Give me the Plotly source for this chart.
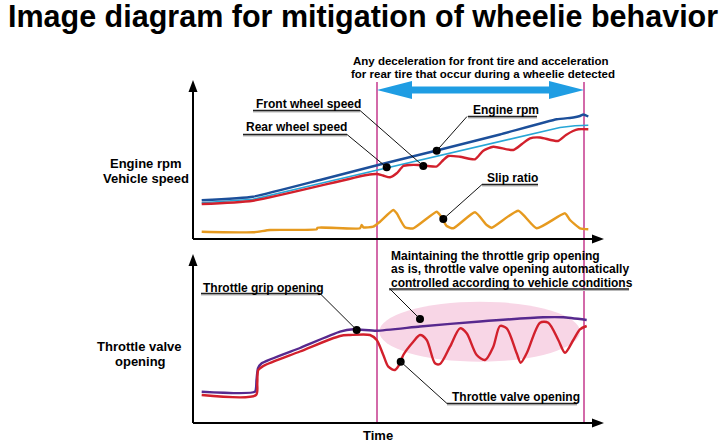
import plotly.graph_objects as go

W, H = 720, 442
X0 = 193          # time origin (pixel column of the vertical axes)
TOP_BASE = 239    # baseline of upper panel
BOT_BASE = 423    # baseline of lower panel

# ---------------- data (time units, signal level units) ----------------
rpm_t = [8.7, 60, 127, 187, 243.7, 307, 363.7, 380.3, 387, 390.3, 395.3]
rpm_v = [38.7, 42.3, 59, 74.5, 88.5, 104.5, 119.7, 121.5, 123, 124.5, 122.5]

rear_t = [8.7, 60, 127, 193.7, 257, 327, 352, 367, 382, 395.3]
rear_v = [36.3, 39.7, 55.5, 71, 86, 102.7, 108.5, 111.5, 113.3, 113.8]

front_t = [8.7, 60, 173.7, 183.7, 190, 197, 203.7, 210.3, 217, 225.3, 235, 243.7,
           250.3, 255.3, 267, 282, 290.3, 300.3, 320.3, 329, 337, 347, 365, 373, 380,
           385.3, 395.3]
front_v = [35, 38.3, 64, 65, 63.5, 61.7, 65.7, 73, 74, 74, 73, 72.5,
           79, 83, 82.3, 79.7, 88.3, 92.3, 89, 95, 100.7, 101.5, 98, 104, 108,
           109.7, 109.7]

slip_t = [8.7, 60, 77, 123.7, 124.5, 167, 168.7, 170.3, 180.3, 187, 200.3, 203.7,
          212, 220.3, 243.7, 247, 253.7, 260.3, 282, 293.7, 298.7, 325.3, 343.7,
          372, 377, 387, 395.3]
slip_v = [7.3, 6.7, 9, 9.7, 11.3, 10.7, 14, 11.7, 12.3, 17.3, 29, 25.7,
          11.7, 10.7, 27.3, 24, 13, 10.7, 26.7, 14, 11.3, 28.3, 10.7,
          25.7, 19, 10.7, 9.7]

grip_t = [8.7, 62, 63.5, 65, 68.7, 107, 147, 160.3, 183.7, 227, 287, 350.3, 370.3, 393.7]
grip_v = [31.3, 31.3, 43, 54.7, 59.7, 75, 91.3, 93.7, 92.3, 96.5, 101.5, 105.7, 105.7, 103]

valve_t = [8.7, 63, 64.3, 65.3, 70.3, 107, 147, 157, 177, 183.7, 190.3, 195.3, 202,
           207, 210.3, 220.3, 227, 233.7, 242, 247, 257, 267, 273.7, 283.7, 292,
           300.3, 307, 313.7, 323.7, 327.7, 333.7, 347, 355.3, 365.3, 372, 380.3,
           387, 393.7]
valve_v = [28, 28, 40, 53, 57, 71.5, 87, 88, 88, 83, 68, 56.3, 53,
           59.7, 68, 81.3, 88, 83, 59.7, 59, 76.3, 94.7, 89.7, 68, 63,
           76.3, 97, 94.7, 69.7, 60.3, 69.7, 100.3, 100.3, 83, 70.3, 83,
           93.7, 97]

# callout dots (time, level) on each panel
top_dot_t = [193.7, 230.3, 243.7, 250.3]
top_dot_v = [71.7, 73, 88.3, 20]
bot_dot_t = [163.7, 227, 207.7]
bot_dot_v = [93, 104, 61.3]

TITLE = "Image diagram for mitigation of wheelie behavior"

# ---------------- helpers (pixel -> paper) ----------------
def px(x):
    return x / W

def py(y):
    return 1 - y / H

FONT = "Liberation Sans, Arial, sans-serif"
RED = "#d2202c"
DARKBLUE = "#1c4f9a"
LIGHTBLUE = "#27a6d6"
ORANGE = "#e69a1f"
PURPLE = "#57298e"
MAGENTA = "#c5398c"

fig = go.Figure()

# upper panel
fig.add_trace(go.Scatter(x=rear_t, y=rear_v, mode="lines", name="Rear wheel speed",
                         line=dict(color=LIGHTBLUE, width=1.6)))
fig.add_trace(go.Scatter(x=rpm_t, y=rpm_v, mode="lines", name="Engine rpm",
                         line=dict(color=DARKBLUE, width=2.4, shape="spline", smoothing=0.4)))
fig.add_trace(go.Scatter(x=front_t, y=front_v, mode="lines", name="Front wheel speed",
                         line=dict(color=RED, width=2.4, shape="spline", smoothing=0.6)))
fig.add_trace(go.Scatter(x=slip_t, y=slip_v, mode="lines", name="Slip ratio",
                         line=dict(color=ORANGE, width=2.4, shape="spline", smoothing=0.5)))
fig.add_trace(go.Scatter(x=top_dot_t, y=top_dot_v, mode="markers",
                         marker=dict(color="black", size=8)))

# lower panel
fig.add_trace(go.Scatter(x=grip_t, y=grip_v, mode="lines", name="Throttle grip opening",
                         line=dict(color=PURPLE, width=2.4, shape="spline", smoothing=0.5),
                         yaxis="y2"))
fig.add_trace(go.Scatter(x=valve_t, y=valve_v, mode="lines", name="Throttle valve opening",
                         line=dict(color=RED, width=2.4, shape="spline", smoothing=0.8),
                         yaxis="y2"))
fig.add_trace(go.Scatter(x=bot_dot_t, y=bot_dot_v, mode="markers",
                         marker=dict(color="black", size=8), yaxis="y2"))

shapes = []
annotations = []

# pink ellipse (lower panel, behind lines)
shapes.append(dict(type="circle", xref="x", yref="y2", x0=186.3, x1=387, y0=61.3, y1=121.3,
                   fillcolor="#f8d6e6", line=dict(width=0), layer="below"))

# magenta vertical markers
for xx in (377, 584):
    shapes.append(dict(type="line", xref="paper", yref="paper", x0=px(xx), x1=px(xx),
                       y0=py(82), y1=py(423), line=dict(color=MAGENTA, width=1.5), layer="below"))

# axes with arrow heads
def axis(x0, y0, x1, y1):
    shapes.append(dict(type="line", xref="paper", yref="paper", x0=px(x0), y0=py(y0),
                       x1=px(x1), y1=py(y1), line=dict(color="black", width=2)))

def tri(pts):
    path = "M " + " L ".join(f"{px(a)},{py(b)}" for a, b in pts) + " Z"
    shapes.append(dict(type="path", xref="paper", yref="paper", path=path,
                       fillcolor="black", line=dict(width=0)))

axis(193, 239, 596, 239)
axis(193, 239, 193, 88)
tri([(604, 239), (592, 234.5), (592, 243.5)])
tri([(193, 80), (188.5, 92), (197.5, 92)])
axis(193, 423, 596, 423)
axis(193, 423, 193, 262)
tri([(604, 423), (592, 418.5), (592, 427.5)])
tri([(193, 254), (188.5, 266), (197.5, 266)])

# double-headed blue arrow
ax0, ax1, ay = 377, 584, 90
hl, hh, sh = 35, 9, 3.6
arr_pts = [(ax0, ay), (ax0 + hl, ay - hh), (ax0 + hl, ay - sh), (ax1 - hl, ay - sh),
           (ax1 - hl, ay - hh), (ax1, ay), (ax1 - hl, ay + hh), (ax1 - hl, ay + sh),
           (ax0 + hl, ay + sh), (ax0 + hl, ay + hh)]
shapes.append(dict(type="path", xref="paper", yref="paper",
                   path="M " + " L ".join(f"{px(a)},{py(b)}" for a, b in arr_pts) + " Z",
                   fillcolor="#1f9de3", line=dict(width=0)))

def text(t, x, y, anchor="left", size=12):
    annotations.append(dict(text=f"<b>{t}</b>", xref="paper", yref="paper",
                            x=px(x), y=py(y), xanchor=anchor, yanchor="middle",
                            showarrow=False, font=dict(family=FONT, size=size, color="black")))

def underline(x0, x1, y):
    shapes.append(dict(type="line", xref="paper", yref="paper", x0=px(x0), x1=px(x1),
                       y0=py(y + 1.3), y1=py(y + 1.3), line=dict(color="#b8b8b8", width=1.2)))
    shapes.append(dict(type="line", xref="paper", yref="paper", x0=px(x0), x1=px(x1),
                       y0=py(y), y1=py(y), line=dict(color="#222222", width=1.3)))

def leader(a, b):
    shapes.append(dict(type="line", xref="paper", yref="paper", x0=px(a[0]), x1=px(b[0]),
                       y0=py(a[1]), y1=py(b[1]), line=dict(color="#111111", width=1)))

def callout(t, x_left, y_text, ul_x0, ul_x1, ul_y, lead_from, lead_to):
    text(t, x_left, y_text)
    underline(ul_x0, ul_x1, ul_y)
    leader(lead_from, lead_to)

callout("Front wheel speed", 254, 104, 253, 360, 110.5, (360, 110.5), (423.3, 166))
callout("Rear wheel speed", 244, 127, 243, 347, 134.5, (347, 134.5), (386.7, 167.3))
callout("Engine rpm", 471, 110, 468, 537, 116.5, (467, 116.5), (436.7, 150.7))
callout("Slip ratio", 485, 177.5, 482, 538, 184.5, (482, 184.5), (443.3, 219))
callout("Throttle grip opening", 201, 288, 201, 320, 293.5, (320, 293.5), (356.7, 330))
callout("Throttle valve opening", 450, 397, 447, 577, 403.5, (447, 403.5), (400.7, 361.7))

# multi-line note in lower panel
text("Maintaining the throttle grip opening", 389, 256)
text("as is, throttle valve opening automatically", 389, 269.3)
text("controlled according to vehicle conditions", 389, 282.5)
underline(389, 629, 289)
leader((390, 289), (420, 319))

# arrow caption
text("Any deceleration for front tire and acceleration", 481, 61.5, anchor="center", size=11.5)
text("for rear tire that occur during a wheelie detected", 483, 73.7, anchor="center", size=11.5)

# axis titles
text("Engine rpm", 146, 163.5, anchor="center", size=13)
text("Vehicle speed", 146, 178.5, anchor="center", size=13)
text("Throttle valve", 139.5, 346, anchor="center", size=13)
text("opening", 140, 361, anchor="center", size=13)
text("Time", 378, 435, anchor="center", size=13)

# title
text(TITLE, 363, 17, anchor="center", size=30.5)

fig.update_layout(
    width=W, height=H, margin=dict(l=0, r=0, t=0, b=0, pad=0),
    paper_bgcolor="white", plot_bgcolor="white", showlegend=False,
    xaxis=dict(range=[-X0, W - X0], domain=[0, 1], visible=False, fixedrange=True),
    yaxis=dict(range=[TOP_BASE - H, TOP_BASE], domain=[0, 1], visible=False, fixedrange=True),
    yaxis2=dict(range=[BOT_BASE - H, BOT_BASE], domain=[0, 1], overlaying="y",
                visible=False, fixedrange=True),
    shapes=shapes, annotations=annotations,
)

fig.write_html("out.html", config={"displayModeBar": False},
               post_script="document.body.style.margin='0';document.body.style.overflow='hidden';")
